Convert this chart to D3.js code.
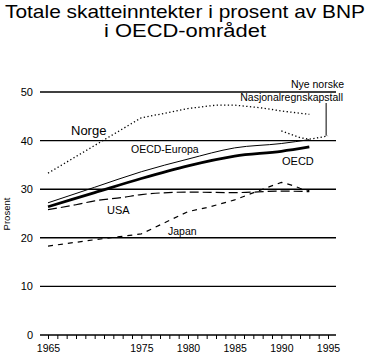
<html>
  <head>
    <script src="https://d3js.org/d3.v7.min.js"></script>
    <style>
      body { margin: 0; background: #fff; }
      text { font-family: Arial, "Liberation Sans", Helvetica, sans-serif; fill: #000; }
    </style>
  </head>

  <body>
    <div id="vis"></div>
  </body>

  <script>
    // values (percent of GDP)
    var norgeYears  = [1965, 1975, 1978, 1980, 1983, 1985, 1988, 1990, 1993]
    var norgeValues = [33.3, 44.7, 45.8, 46.6, 47.3, 47.3, 46.7, 46.1, 45.4]

    var nyeYears  = [1990, 1992, 1993, 1994, 1995]
    var nyeValues = [42.0, 40.6, 40.3, 40.6, 41.0]

    var oecdYears      = [1965, 1970, 1975, 1980, 1985, 1990, 1993]
    var europaValues   = [27.2, 30.4, 33.6, 36.2, 38.5, 39.4, 40.2]
    var oecdValues     = [26.4, 29.3, 32.2, 34.8, 36.8, 37.8, 38.7]

    var usaYears  = [1965, 1968, 1970, 1973, 1975, 1980, 1985, 1990, 1993]
    var usaValues = [25.8, 26.8, 27.6, 28.3, 28.9, 29.4, 29.3, 29.6, 29.5]

    var japanYears  = [1965, 1970, 1975, 1980, 1982, 1985, 1988, 1990, 1991, 1992, 1993]
    var japanValues = [18.3, 19.6, 20.8, 25.4, 26.2, 27.8, 30.0, 31.4, 30.9, 30.2, 29.7]

    var yTicks = [0, 10, 20, 30, 40, 50]
    var xLabels = [1965, 1975, 1980, 1985, 1990, 1995]

    var width = 372
    var height = 354

    var svg = d3.select("#vis")
    .append("svg")
    .attr("width", width)
    .attr("height", height)

    var x = d3.scaleLinear().domain([1965, 1995]).range([48, 328])
    var y = d3.scaleLinear().domain([0, 50]).range([335, 92])
    var gridLeft = 40, gridRight = 336

    // title
    svg.append("text")
    .attr("x", 185).attr("y", 18)
    .attr("text-anchor", "middle")
    .attr("textLength", 360)
    .attr("lengthAdjust", "spacingAndGlyphs")
    .style("font-size", "19px")
    .text("Totale skatteinntekter i prosent av BNP")
    svg.append("text")
    .attr("x", 185).attr("y", 37)
    .attr("text-anchor", "middle")
    .attr("textLength", 162)
    .attr("lengthAdjust", "spacingAndGlyphs")
    .style("font-size", "19px")
    .text("i OECD-området")

    // horizontal grid lines
    svg.selectAll("line.grid")
    .data(yTicks)
    .enter()
    .append("line")
    .attr("class", "grid")
    .attr("x1", gridLeft).attr("x2", gridRight)
    .attr("y1", function(d) { return y(d) })
    .attr("y2", function(d) { return y(d) })
    .style("stroke", "black")
    .style("stroke-width", "1.4px")

    // y axis labels
    var yAxis = svg.append("g")
    .attr("transform", "translate(" + gridLeft + ",0)")
    .call(d3.axisLeft(y).tickValues(yTicks).tickSize(0).tickPadding(7))
    yAxis.select(".domain").remove()
    yAxis.selectAll("text").style("font-size", "11px").style("font-family", "Arial, 'Liberation Sans', sans-serif")

    // x axis: a tick each year, labels on some
    var allYears = d3.range(1965, 1996)
    var xAxis = svg.append("g")
    .attr("transform", "translate(0," + y(0) + ")")
    .call(d3.axisBottom(x).tickValues(allYears).tickSize(4).tickPadding(6)
      .tickFormat(function(d) { return xLabels.indexOf(d) >= 0 ? d : "" }))
    xAxis.select(".domain").remove()
    xAxis.selectAll("line").style("stroke-width", "1px")
    xAxis.selectAll("text").style("font-size", "10.5px").style("font-family", "Arial, 'Liberation Sans', sans-serif")

    // y axis title
    svg.append("text")
    .attr("transform", "translate(10,214) rotate(-90)")
    .attr("text-anchor", "middle")
    .style("font-size", "9.5px")
    .text("Prosent")

    function series(years, values) {
      return years.map(function(d, i) { return [d, values[i]] })
    }

    var smooth = d3.line()
    .x(function(d) { return x(d[0]) })
    .y(function(d) { return y(d[1]) })
    .curve(d3.curveMonotoneX)

    var straight = d3.line()
    .x(function(d) { return x(d[0]) })
    .y(function(d) { return y(d[1]) })

    var lines = [
      { data: series(norgeYears, norgeValues), w: 1.3, dash: "1.3,2.4", gen: straight },
      { data: series(nyeYears, nyeValues), w: 1.3, dash: "1.3,2.4", gen: straight },
      { data: series(oecdYears, europaValues), w: 1, dash: null, gen: smooth },
      { data: series(oecdYears, oecdValues), w: 2.7, dash: null, gen: smooth },
      { data: series(usaYears, usaValues), w: 1.2, dash: "9,4", gen: smooth },
      { data: series(japanYears, japanValues), w: 1.2, dash: "5,5", gen: straight }
    ]

    svg.selectAll("path.serie")
    .data(lines)
    .enter()
    .append("path")
    .attr("class", "serie")
    .attr("d", function(d) { return d.gen(d.data) })
    .style("fill", "none")
    .style("stroke", "black")
    .style("stroke-width", function(d) { return d.w + "px" })
    .style("stroke-dasharray", function(d) { return d.dash })

    // pointer to the new Norwegian figures
    svg.append("line")
    .attr("x1", x(1994.8)).attr("x2", x(1994.8))
    .attr("y1", 103).attr("y2", y(40.8) - 1)
    .style("stroke", "black")
    .style("stroke-width", "1px")

    // series labels
    var labels = [
      { t: "Norge", x: 71, y: 135, s: 13, a: "start" },
      { t: "OECD-Europa", x: 131, y: 153, s: 10.5, a: "start" },
      { t: "OECD", x: 282, y: 165, s: 11, a: "start" },
      { t: "USA", x: 107, y: 214, s: 11, a: "start" },
      { t: "Japan", x: 168, y: 235, s: 10.5, a: "start" },
      { t: "Nye norske", x: 344, y: 88, s: 10.5, a: "end" },
      { t: "Nasjonalregnskapstall", x: 343, y: 101, s: 10.5, a: "end" }
    ]
    svg.selectAll("text.lab")
    .data(labels)
    .enter()
    .append("text")
    .attr("class", "lab")
    .attr("x", function(d) { return d.x })
    .attr("y", function(d) { return d.y })
    .attr("text-anchor", function(d) { return d.a })
    .style("font-size", function(d) { return d.s + "px" })
    .text(function(d) { return d.t })
  </script>
</html>
